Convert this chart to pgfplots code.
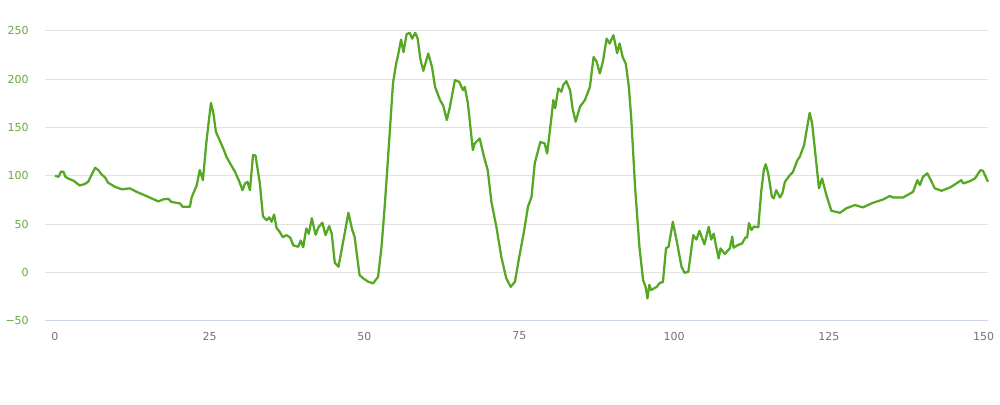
\documentclass[border=0pt]{standalone}
\usepackage{pgfplots}
\pgfplotsset{compat=1.18}
\usepackage{fontspec}
\setmainfont{DejaVu Sans}
\definecolor{linegreen}{RGB}{86,168,36}
\definecolor{labgreen}{RGB}{102,170,60}
\definecolor{labgray}{RGB}{115,115,115}
\definecolor{gridc}{RGB}{226,226,226}
\definecolor{axisc}{RGB}{204,214,235}
\begin{document}
\begin{tikzpicture}
\path[use as bounding box] (0pt,0pt) rectangle (750pt,303pt);
\begin{axis}[
  at={(33.75pt,62.5pt)}, anchor=south west,
  scale only axis, width=707.25pt, height=217.3pt,
  xmin=-1.6, xmax=150.7, ymin=-50, ymax=250,
  axis line style={draw=none},
  major tick length=0pt,
  xtick={0,25,50,75,100,125,150},
  xticklabels={0,25,50,75,100,125,150},
  ytick={-50,0,50,100,150,200,250},
  yticklabels={−50,0,50,100,150,200,250},
  ymajorgrids, grid style={gridc, line width=0.75pt},
  yticklabel style={labgreen, font=\fontsize{8.25}{10}\selectfont, inner sep=0pt, xshift=-12pt},
  xticklabel style={labgray, font=\fontsize{8.25}{10}\selectfont, inner sep=0pt, yshift=-8.25pt},
  clip=false,
]
\addplot[axisc, line width=0.75pt, forget plot] coordinates {(-1.6,-50) (150.7,-50)};
\addplot[linegreen, line width=1.7pt, line join=round] coordinates {
(0,100) (0.6,99) (1.0,104.5) (1.4,104) (1.7,99) (2.2,97) (3.0,95) (4.0,90) (4.8,91.4) (5.4,94)
(5.9,100.7) (6.5,108.3) (7.0,106) (7.5,101.7) (8.1,98.3) (8.6,92.8) (9.7,88.6) (10.8,86) (12.1,87)
(13.2,83.4) (14.8,79) (16.7,73.5) (17.5,75.6) (18.3,76.2) (18.8,73) (20.2,71.4) (20.6,68) (21.8,68)
(22.1,78) (22.9,90) (23.4,106) (23.9,95.5) (24.5,137) (25.2,175.5) (25.6,164.6) (26.0,145.5)
(26.6,137) (27.3,126.6) (27.7,119.7) (28.3,112.8) (29.1,104) (29.8,93.8) (30.3,85) (30.7,92)
(31.1,93.8) (31.5,85) (32.0,121.4) (32.4,121) (33.1,92) (33.6,58) (34.2,54) (34.6,57) (35.0,52.4)
(35.4,60) (35.8,46) (36.3,42) (36.8,36.5) (37.4,38.5) (38.0,36) (38.5,28) (39.3,26.5) (39.7,33)
(40.1,26) (40.6,45.5) (41.0,40) (41.5,56) (42.1,39) (42.6,47) (43.2,51.5) (43.7,38.6) (44.3,48)
(44.7,40.4) (45.2,10) (45.8,5.8) (46.0,12.7) (46.8,40.4) (47.4,61.7) (48.0,44.5) (48.4,37)
(49.2,-2.8) (49.8,-6.2) (50.6,-9.7) (51.4,-11.4) (52.2,-4.5) (52.75,26.5) (53.3,71.4) (54.1,147)
(54.6,195.7) (55.1,216) (55.4,224) (55.9,241) (56.3,228) (56.8,246.7) (57.3,248) (57.7,242)
(58.2,248) (58.6,242) (59.0,221.5) (59.5,208.7) (60.3,226.7) (60.9,212.8) (61.4,192) (62.2,178.4)
(62.7,173) (63.3,157.7) (63.8,171.5) (64.6,199) (65.3,197.3) (65.9,188.7) (66.2,192) (66.7,175)
(67.5,126.6) (67.8,133.5) (68.6,138.7) (69.3,119.7) (69.9,106) (70.5,73) (71.3,47.2) (72.1,16)
(72.9,-6.2) (73.6,-15) (74.3,-9.7) (74.9,12.7) (75.8,43.8) (76.4,68) (76.97,78) (77.5,113)
(78.4,135) (79.1,133.5) (79.5,123) (80.2,161) (80.5,178.4) (80.8,170) (81.3,190.5) (81.8,187)
(82.1,194) (82.6,198) (83.2,188.7) (83.6,170) (84.1,156) (84.8,171.5) (85.6,178.4) (86.4,192)
(87.0,223) (87.5,218) (88.0,206) (88.5,218) (89.1,242) (89.6,237) (90.2,245.6) (90.8,227)
(91.2,237) (91.7,223) (92.2,216) (92.7,192) (93.1,157.7) (93.7,88.6) (94.4,26.5) (95.0,-8)
(95.4,-15) (95.7,-27) (96.0,-13) (96.3,-18.3) (97.2,-15) (97.7,-10.8) (98.2,-10) (98.7,25)
(99.1,26.5) (99.4,37) (99.8,52.4) (100.5,30) (101.2,5.8) (101.7,-0.5) (102.3,0.6) (103.1,38.6)
(103.6,34) (104.1,43) (104.5,36) (104.9,29) (105.6,47.2) (106.0,34) (106.4,40) (106.8,26.5)
(107.2,14.5) (107.5,24.8) (108.2,19) (109.0,24.8) (109.4,37) (109.6,25.5) (110.3,28.3) (111.0,30)
(111.5,36) (111.8,36.2) (112.1,51) (112.5,43.8) (112.9,47.5) (113.6,46.6) (114.1,85.2) (114.5,106)
(114.8,112) (115.2,102.5) (115.8,78.3) (116.1,76.6) (116.5,85.2) (117.1,77.5) (117.5,82)
(117.9,93.8) (118.7,100.7) (119.2,104) (119.9,116) (120.3,119.7) (121.0,131.8) (121.5,150.7)
(121.9,165.2) (122.3,154.2) (122.7,130) (123.4,87) (123.9,97.3) (124.6,80) (125.4,63.8)
(126.8,61.7) (127.8,66.3) (129.2,69.7) (130.5,67.3) (132.1,72) (133.8,75.6) (134.8,79) (135.4,77.6)
(137.0,77.6) (138.6,83.4) (139.3,95.5) (139.7,90.4) (140.2,99) (140.9,102.5) (141.6,93.8)
(142.1,87) (143.2,84.5) (144.6,88) (145.6,92.1) (146.4,95.5) (146.7,92.1) (147.8,94.5)
(148.6,97.3) (149.5,106) (149.9,105) (150.7,93.8)
};
\end{axis}
\end{tikzpicture}
\end{document}
